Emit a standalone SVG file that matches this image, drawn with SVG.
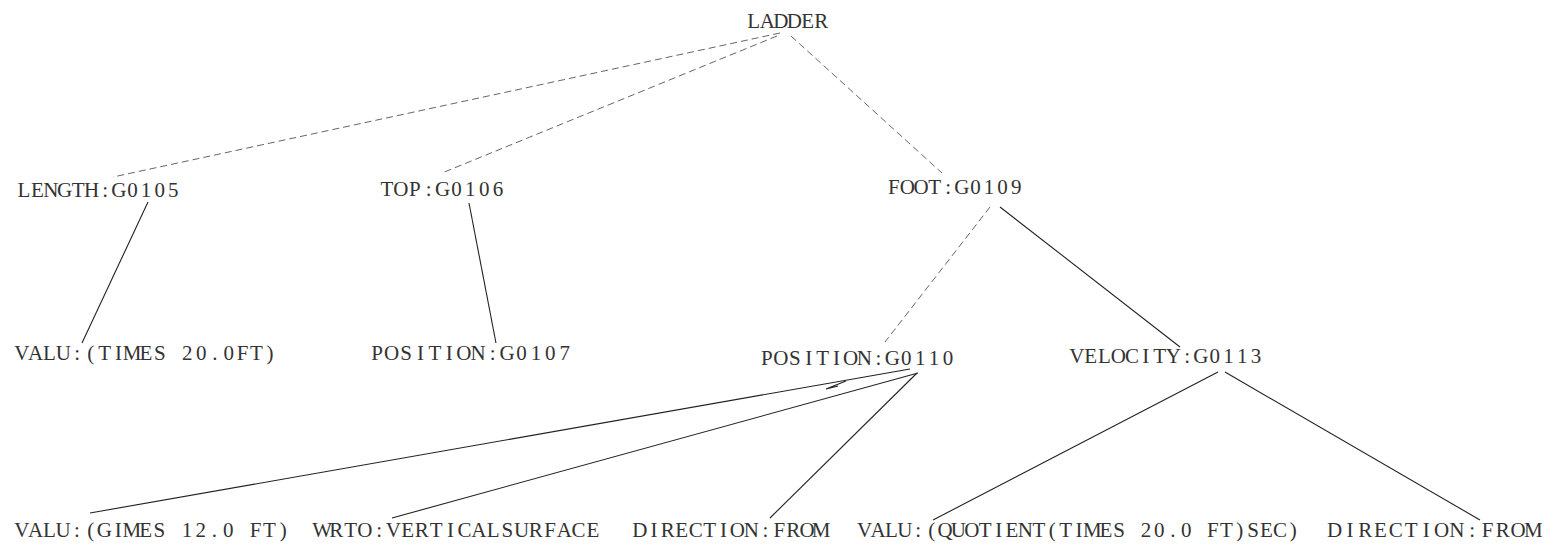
<svg xmlns="http://www.w3.org/2000/svg" width="1556" height="548" viewBox="0 0 1556 548">
<style>
text{font-family:"Liberation Serif","DejaVu Serif",serif;font-size:21px;fill:#333;text-anchor:middle}
.e{stroke:#222;stroke-width:1.1;fill:none}
.f{stroke:#666;stroke-width:1;fill:none;stroke-dasharray:7 4}
</style>
<rect width="1556" height="548" fill="#fff"/>
<g id="connectors">
<line class="f" x1="780" y1="33" x2="113" y2="177"/>
<line class="f" x1="777" y1="36" x2="442" y2="173"/>
<line class="f" x1="791" y1="36" x2="942" y2="173"/>
<line class="e" x1="148" y1="202" x2="82" y2="343"/>
<line class="e" x1="469" y1="203" x2="496" y2="343"/>
<line class="f" x1="990" y1="207" x2="885" y2="342"/>
<line class="e" x1="1000" y1="207" x2="1180" y2="347"/>
<line class="e" x1="910" y1="369" x2="90" y2="513"/>
<line class="e" x1="918" y1="373" x2="392" y2="518"/>
<line class="e" x1="917" y1="373" x2="770" y2="518"/>
<path class="e" d="M846,381 L826,389 L838,386"/>
<line class="e" x1="1218" y1="372" x2="933" y2="520"/>
<line class="e" x1="1225" y1="372" x2="1480" y2="520"/>
</g>
<g id="ladder"><text y="28" x="753.75 767.25 780.75 794.25 807.75 821.25">LADDER</text></g>
<g id="length"><text y="197" x="23.79 37.38 50.96 64.54 78.13 91.71 105.29 118.88 132.46 146.04 159.63 173.21">LENGTH:G0105</text></g>
<g id="top"><text y="196" x="386.94 400.83 414.72 428.61 442.5 456.39 470.28 484.17 498.06">TOP:G0106</text></g>
<g id="foot"><text y="194" x="893.8 907.4 921 934.6 948.2 961.8 975.4 989 1002.6 1016.2">FOOT:G0109</text></g>
<g id="valu-times"><text y="360" x="21.89 35.68 49.47 63.26 77.05 90.84 104.63 118.42 132.21 146 159.79 173.58 187.37 201.16 214.95 228.74 242.53 256.32 270.11">VALU:(TIMES 20.0FT)</text></g>
<g id="position-g0107"><text y="360" x="377.21 391.64 406.07 420.5 434.93 449.36 463.79 478.21 492.64 507.07 521.5 535.93 550.36 564.79">POSITION:G0107</text></g>
<g id="position-g0110"><text y="365" x="766.96 780.89 794.82 808.75 822.68 836.61 850.54 864.46 878.39 892.32 906.25 920.18 934.11 948.04">POSITION:G0110</text></g>
<g id="velocity"><text y="363" x="1076.89 1090.68 1104.46 1118.25 1132.04 1145.82 1159.61 1173.39 1187.18 1200.96 1214.75 1228.54 1242.32 1256.11">VELOCITY:G0113</text></g>
<g id="valu-gimes"><text y="537" x="21.88 35.63 49.38 63.13 76.88 90.63 104.38 118.13 131.88 145.63 159.38 173.13 186.88 200.63 214.38 228.13 241.88 255.63 269.38 283.13">VALU:(GIMES 12.0 FT)</text></g>
<g id="wrto"><text y="537" x="322.13 336.38 350.63 364.88 379.13 393.38 407.63 421.88 436.13 450.38 464.63 478.88 493.13 507.38 521.63 535.88 550.13 564.38 578.63 592.88">WRTO:VERTICALSURFACE</text></g>
<g id="direction1"><text y="537" x="639.96 653.89 667.82 681.75 695.68 709.61 723.54 737.46 751.39 765.32 779.25 793.18 807.11 821.04">DIRECTION:FROM</text></g>
<g id="valu-quotient"><text y="537" x="864.7 878.09 891.48 904.88 918.27 931.67 945.06 958.45 971.85 985.24 998.64 1012.03 1025.42 1038.82 1052.21 1065.61 1079 1092.39 1105.79 1119.18 1132.58 1145.97 1159.36 1172.76 1186.15 1199.55 1212.94 1226.33 1239.73 1253.12 1266.52 1279.91 1293.3">VALU:(QUOTIENT(TIMES 20.0 FT)SEC)</text></g>
<g id="direction2"><text y="537" x="1334.64 1349.93 1365.21 1380.5 1395.79 1411.07 1426.36 1441.64 1456.93 1472.21 1487.5 1502.79 1518.07 1533.36">DIRECTION:FROM</text></g>
</svg>
